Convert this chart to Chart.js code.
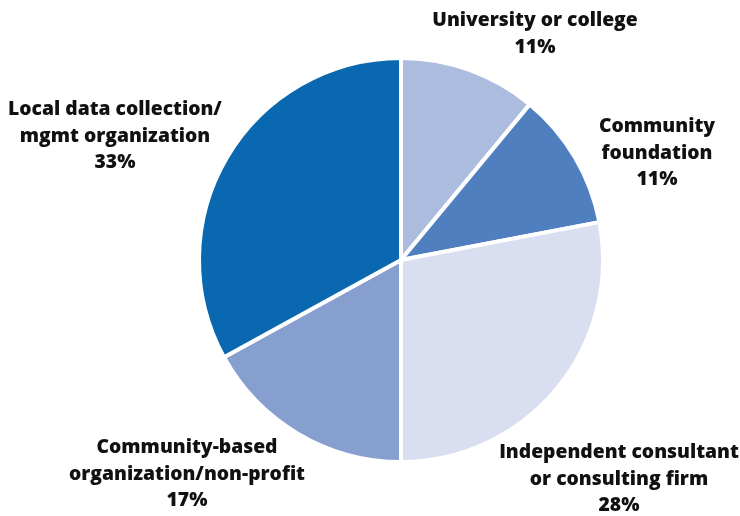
<!DOCTYPE html>
<html>
<head>
<meta charset="utf-8">
<script src="https://cdn.jsdelivr.net/npm/chart.js@4.4.1/dist/chart.umd.min.js"></script>
<style>
  html, body { margin: 0; padding: 0; background: #fff; }
  #wrap { position: relative; width: 740px; height: 516px; }
</style>
</head>
<body>
<div id="wrap"><canvas id="pie"></canvas></div>
<script>
// Who manages the data — share of respondents
const categories = [
  ['University or college'],
  ['Community', 'foundation'],
  ['Independent consultant', 'or consulting firm'],
  ['Community-based', 'organization/non-profit'],
  ['Local data collection/', 'mgmt organization'],
];
const shares = [11, 11, 28, 17, 33];
const sliceColors = ['#abbcde', '#4f7fbe', '#d9dff0', '#869fcf', '#0a68b0'];

// label anchors, relative to the pie centre (first line centre)
const labelSpots = [
  { dx: 134, dy: -239 },
  { dx: 256, dy: -133 },
  { dx: 218, dy: 193 },
  { dx: -214, dy: 188 },
  { dx: -286, dy: -150 },
];

const outsideLabels = {
  id: 'outsideLabels',
  afterDraw(chart) {
    const arc = chart.getDatasetMeta(0).data[0];
    if (!arc) return;
    const { ctx } = chart;
    ctx.save();
    ctx.fillStyle = '#111';
    ctx.font = '800 19.3px "Open Sans", Lato, sans-serif';
    ctx.textAlign = 'center';
    ctx.textBaseline = 'middle';
    categories.forEach((lines, i) => {
      const x = arc.x + labelSpots[i].dx;
      let y = arc.y + labelSpots[i].dy;
      lines.concat([shares[i] + '%']).forEach(t => {
        ctx.fillText(t, x, y);
        y += 26.5;
      });
    });
    ctx.restore();
  },
};

new Chart(document.getElementById('pie'), {
  type: 'pie',
  data: {
    labels: categories.map(l => l.join(' ')),
    datasets: [{
      data: shares,
      backgroundColor: sliceColors,
      borderColor: '#ffffff',
      borderWidth: 4,
    }],
  },
  options: {
    responsive: true, maintainAspectRatio: false,
    animation: false,
    layout: { padding: { left: 197, right: 135, top: 56, bottom: 52 } },
    plugins: {
      legend: { display: false },
      tooltip: { enabled: false },
    },
  },
  plugins: [outsideLabels],
});
</script>
</body>
</html>
